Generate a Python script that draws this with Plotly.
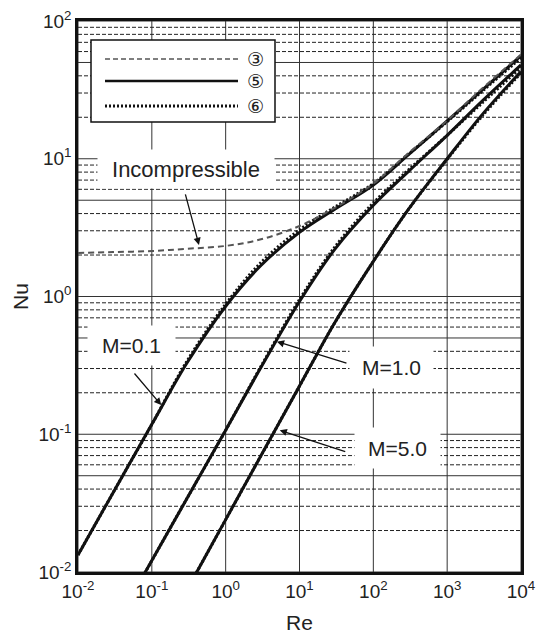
import numpy as np
import plotly.graph_objects as go

# ---- data: Nusselt number vs Reynolds number ----
# (3) incompressible correlation
re_incomp = [0.01, 0.03, 0.1, 0.3, 1, 3, 10, 30, 100, 300, 1000, 3000, 10000]
nu_incomp = [2.07, 2.10, 2.14, 2.22, 2.33, 2.6, 3.25, 4.4, 6.6, 11.0, 19.0, 32.5, 57]

# M = 0.1 : model (5) solid, model (6) dotted
re_m01 = [0.01, 0.03, 0.1, 0.3, 1, 3, 10, 30, 100, 300, 1000, 3000, 10000]
nu_m01_5 = [0.0133, 0.0378, 0.118, 0.33, 0.85, 1.68, 2.92, 4.3, 6.45, 10.7, 18.8, 31.6, 56]
nu_m01_6 = [0.0133, 0.0378, 0.118, 0.34, 0.88, 1.76, 3.05, 4.45, 6.6, 10.8, 18.6, 31.0, 54]

# M = 1.0
re_m1 = [0.08, 0.1, 0.3, 1, 3, 10, 30, 100, 300, 1000, 3000, 10000]
nu_m1_5 = [0.0098, 0.0121, 0.0343, 0.107, 0.305, 0.92, 2.2, 4.6, 8.1, 14.8, 26.3, 48]
nu_m1_6 = [0.0098, 0.0121, 0.0343, 0.107, 0.31, 0.95, 2.28, 4.78, 8.3, 14.8, 25.5, 46]

# M = 5.0
re_m5 = [0.4, 1, 3, 10, 30, 100, 300, 1000, 3000, 10000]
nu_m5_5 = [0.00985, 0.024, 0.0697, 0.224, 0.645, 1.8, 4.3, 10.0, 21.0, 43]
nu_m5_6 = [0.00985, 0.024, 0.0697, 0.224, 0.645, 1.8, 4.3, 9.9, 20.5, 42]

# axis ticks
x_ticks = [0.01, 0.1, 1, 10, 100, 1000, 10000]
x_ticktext = ["10<sup>-2</sup>", "10<sup>-1</sup>", "10<sup>0</sup>", "10<sup>1</sup>",
              "10<sup>2</sup>", "10<sup>3</sup>", "10<sup>4</sup>"]
y_ticks = [0.01, 0.1, 1, 10, 100]
y_ticktext = ["10<sup>-2</sup>", "10<sup>-1</sup>", "10<sup>0</sup>", "10<sup>1</sup>", "10<sup>2</sup>"]

FONT = "Arial, 'Liberation Sans', sans-serif"
XR = (0.01, 10000)
YR = (0.01, 100)

fig = go.Figure()


def grid_trace(xs, ys, dash, width=1, color="#222"):
    fig.add_trace(go.Scatter(x=xs, y=ys, mode="lines", hoverinfo="skip", showlegend=False,
                             line=dict(color=color, width=width, dash=dash)))


# vertical grid at each decade of Re
gx, gy = [], []
for v in x_ticks:
    gx += [v, v, None]
    gy += [YR[0], YR[1], None]
grid_trace(gx, gy, "solid", 1, "#333")

# horizontal grid: solid at 1x and 5x each decade, dashed at the other minors
solid_y, dash_y = [], []
for d in y_ticks[:-1]:
    solid_y += [d, 5 * d]
    dash_y += [k * d for k in (2, 3, 4, 6, 7, 8, 9)]
solid_y.append(y_ticks[-1])

hx, hy = [], []
for v in solid_y:
    hx += [XR[0], XR[1], None]
    hy += [v, v, None]
grid_trace(hx, hy, "solid", 1, "#333")

hx, hy = [], []
for v in dash_y:
    hx += [XR[0], XR[1], None]
    hy += [v, v, None]
grid_trace(hx, hy, "4px,2px", 1, "#222")

# ---- curves ----
dotted = dict(color="#111", width=3, dash="2px,2px", shape="spline", smoothing=1.0)
solid = dict(color="#111", width=3, shape="spline", smoothing=1.0)

for re_v, nu6 in [(re_m01, nu_m01_6), (re_m1, nu_m1_6), (re_m5, nu_m5_6)]:
    fig.add_trace(go.Scatter(x=re_v, y=nu6, mode="lines", line=dotted, name="⑥", showlegend=False))
for re_v, nu5 in [(re_m01, nu_m01_5), (re_m1, nu_m1_5), (re_m5, nu_m5_5)]:
    fig.add_trace(go.Scatter(x=re_v, y=nu5, mode="lines", line=solid, name="⑤", showlegend=False))
fig.add_trace(go.Scatter(x=re_incomp, y=nu_incomp, mode="lines",
                         line=dict(color="#555", width=2, dash="6px,4px", shape="spline", smoothing=1.0),
                         name="③", showlegend=False))

# ---- layout geometry helpers (plot area in pixels) ----
L, R, T, B = 78, 20, 21, 62
W, H = 541, 634
PW, PH = W - L - R, H - T - B


def px(x):
    return (x - L) / PW


def py(y):
    return (H - B - y) / PH


shapes = []
# legend box and samples
shapes.append(dict(type="rect", xref="paper", yref="paper", x0=px(91), x1=px(275), y0=py(122), y1=py(40),
                   fillcolor="white", line=dict(color="#111", width=1.5), layer="above"))
legend_rows = [(59, dict(color="#555", width=1.5, dash="5px,3px"), "③"),
               (81, dict(color="#111", width=2.5), "⑤"),
               (106, dict(color="#111", width=3, dash="2px,2px"), "⑥")]
annotations = []
for yy, ln, sym in legend_rows:
    shapes.append(dict(type="line", xref="paper", yref="paper", x0=px(105), x1=px(238), y0=py(yy), y1=py(yy),
                       line=ln, layer="above"))
    annotations.append(dict(xref="paper", yref="paper", x=px(255), y=py(yy), text=sym, showarrow=False,
                            xanchor="center", yanchor="middle",
                            font=dict(family="'DejaVu Sans'", size=19, color="#222")))

# text labels with white boxes
labels = [("Incompressible", 185.5, 169, 174, 36, 22),
          ("M=0.1", 131, 345.5, 85, 37, 21),
          ("M=1.0", 391.5, 367.5, 81, 39, 21),
          ("M=5.0", 397.5, 448, 83, 38, 21)]
for txt, cx, cy, bw, bh, fs in labels:
    annotations.append(dict(xref="paper", yref="paper", x=px(cx), y=py(cy), text=txt, showarrow=False,
                            xanchor="center", yanchor="middle", bgcolor="white", borderpad=1,
                            width=bw, height=bh, font=dict(family=FONT, size=fs, color="#222")))

# arrows: tip in (Re, Nu), tail offset in pixels
arrows = [(0.435, 2.37, -14, -52),
          (0.134, 0.163, -28, -33),
          (4.95, 0.47, 71, 22),
          (5.4, 0.107, 67, 22)]
for re_t, nu_t, ax, ay in arrows:
    annotations.append(dict(x=np.log10(re_t), y=np.log10(nu_t), xref="x", yref="y", text="",
                            showarrow=True, arrowhead=2, arrowsize=1.1, arrowwidth=1.3,
                            arrowcolor="#111", ax=ax, ay=ay, standoff=0))

axis_common = dict(type="log", showgrid=False, zeroline=False, showline=True, mirror=True,
                   linecolor="#111", linewidth=2.5, ticks="", automargin=False,
                   tickfont=dict(family=FONT, size=19, color="#222"))

fig.update_layout(
    width=W, height=H,
    margin=dict(l=L, r=R, t=T, b=B),
    paper_bgcolor="white", plot_bgcolor="white",
    showlegend=False,
    xaxis=dict(range=[np.log10(XR[0]), np.log10(XR[1])], tickvals=x_ticks, ticktext=x_ticktext,
               title=dict(text="Re", font=dict(family=FONT, size=21, color="#222"), standoff=18),
               **axis_common),
    yaxis=dict(range=[np.log10(YR[0]), np.log10(YR[1])], tickvals=y_ticks, ticktext=y_ticktext,
               title=dict(text="Nu", font=dict(family=FONT, size=21, color="#222"), standoff=5),
               **axis_common),
    shapes=shapes,
    annotations=annotations,
)

fig.write_html("out.html")
